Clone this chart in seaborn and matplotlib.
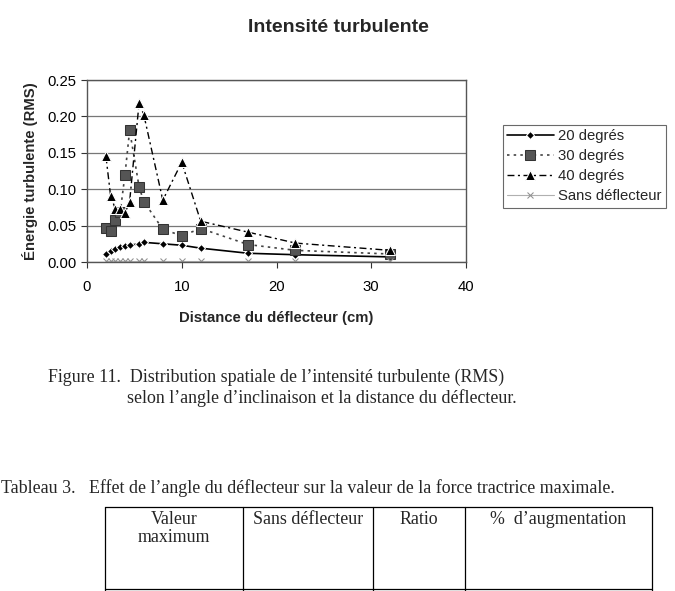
import numpy as np
import pandas as pd
import matplotlib
matplotlib.use('Agg')
from matplotlib import pyplot as plt
from matplotlib.lines import Line2D
import seaborn as sns

# distances (cm) and RMS values
distance = [2, 2.5, 3, 3.5, 4, 4.5, 5.5, 6, 8, 10, 12, 17, 22, 32]
deg20 = [0.011, 0.015, 0.018, 0.020, 0.022, 0.023, 0.025, 0.027, 0.025, 0.023, 0.019, 0.012, 0.010, 0.007]
deg30 = [0.047, 0.042, 0.058, 0.068, 0.119, 0.181, 0.103, 0.083, 0.045, 0.036, 0.046, 0.024, 0.016, 0.011]
deg40 = [0.145, 0.090, 0.073, 0.073, 0.067, 0.083, 0.219, 0.202, 0.085, 0.137, 0.056, 0.041, 0.026, 0.016]
sans = [0.002] * 14

series_names = ['20 degrés', '30 degrés', '40 degrés', 'Sans déflecteur']
y_ticks = [0.00, 0.05, 0.10, 0.15, 0.20, 0.25]
x_ticks = [0, 10, 20, 30, 40]

sns.set_style('white')
plt.rcParams['font.family'] = ['Liberation Sans', 'DejaVu Sans']

fig = plt.figure(figsize=(6.75, 5.91), dpi=100)
ax = fig.add_axes([87/675, 1-262/591, (466-87)/675, (262-80)/591])

styles = [
    dict(color='black', linestyle='-', marker='D', markersize=4.5, linewidth=1.2),
    dict(color='#444444', linestyle=(0, (1.5, 2.5)), marker='s', markersize=6.5, linewidth=1.2,
         markerfacecolor='#555555', markeredgecolor='#333333'),
    dict(color='black', linestyle=(0, (5, 2.5, 1.5, 2.5)), marker='^', markersize=7, linewidth=1.0),
    dict(color='#b0b0b0', linestyle='-', marker='x', markersize=5, linewidth=0.8,
         markeredgecolor='#909090'),
]
for name, vals, st in zip(series_names, [deg20, deg30, deg40, sans], styles):
    sns.lineplot(x=distance, y=vals, ax=ax, label=name, **st)

fs = 10.7
ax.set_xlim(0, 40)
ax.set_ylim(0, 0.25)
ax.set_xticks(x_ticks)
ax.set_yticks(y_ticks)
ax.set_yticklabels([f'{v:.2f}' for v in y_ticks])
ax.yaxis.grid(True, color='#777777', linewidth=0.9)
ax.xaxis.grid(False)
for s in ax.spines.values():
    s.set_color('#555555')
    s.set_linewidth(1.0)
ax.tick_params(axis='both', direction='out', length=4, width=0.8, colors='#333333',
               labelsize=fs, labelcolor='black', bottom=True, left=True)
ax.tick_params(axis='x', pad=9)
ax.set_xlabel('Distance du déflecteur (cm)', fontsize=fs, fontweight='bold', labelpad=12)
ax.set_ylabel('Énergie turbulente (RMS)', fontsize=fs, fontweight='bold', labelpad=7)

fig.text(338/675, 1-28/591, 'Intensité turbulente', ha='center', va='center',
         fontsize=14, fontweight='bold')

leg = ax.legend(loc='upper left', bbox_to_anchor=(503/675, 1-125/591),
                bbox_transform=fig.transFigure, fontsize=fs, frameon=True,
                fancybox=False, edgecolor='#444444', handlelength=3.1,
                borderpad=0.3, labelspacing=0.4, handletextpad=0.3, borderaxespad=0)
leg.get_frame().set_linewidth(0.8)

# caption and table below, serif like the scanned page
serif = ['Liberation Serif', 'DejaVu Serif']
cap = 12.9
fig.text(48/675, 1-377/591, 'Figure 11.  Distribution spatiale de l\u2019intensité turbulente (RMS)',
         fontsize=cap, family=serif, va='center')
fig.text(127/675, 1-398/591, 'selon l\u2019angle d\u2019inclinaison et la distance du déflecteur.',
         fontsize=cap, family=serif, va='center')
fig.text(1/675, 1-488/591, 'Tableau 3.   Effet de l\u2019angle du déflecteur sur la valeur de la force tractrice maximale.',
         fontsize=cap, family=serif, va='center')

col_x = [105, 243, 373, 465, 652]
top_y = 507
for x in col_x:
    fig.add_artist(Line2D([x/675, x/675], [1-top_y/591, 0], transform=fig.transFigure,
                          color='black', linewidth=0.9))
fig.add_artist(Line2D([col_x[0]/675, col_x[-1]/675], [1-top_y/591, 1-top_y/591],
                      transform=fig.transFigure, color='black', linewidth=0.9))
fig.add_artist(Line2D([col_x[0]/675, col_x[-1]/675], [1-589/591, 1-589/591],
                      transform=fig.transFigure, color='black', linewidth=0.9))
headers = ['Valeur\nmaximum', 'Sans déflecteur', 'Ratio', '%  d\u2019augmentation']
for i, h in enumerate(headers):
    cx = (col_x[i] + col_x[i+1]) / 2
    fig.text(cx/675, 1-511/591, h, ha='center', va='top', fontsize=cap, family=serif,
             linespacing=1.05)

fig.savefig('out.png', dpi=100)
